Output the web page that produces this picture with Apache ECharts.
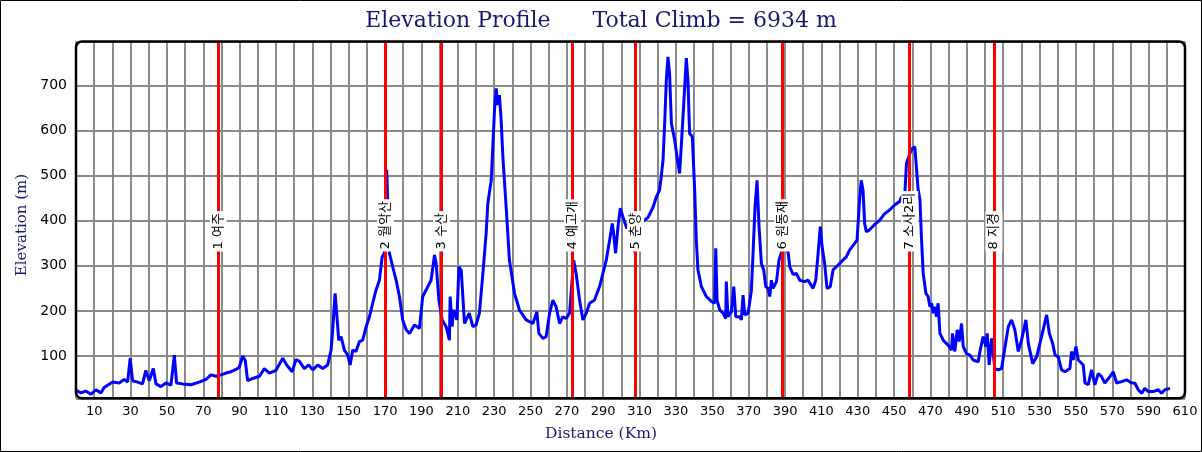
<!DOCTYPE html>
<html>
<head>
<meta charset="utf-8">
<script src="https://cdn.jsdelivr.net/npm/echarts@6/dist/echarts.min.js"></script>
<style>
html,body{margin:0;padding:0;background:#fff;}
#chart{width:1202px;height:452px;}
</style>
</head>
<body>
<div id="chart"></div>
<script>
// ---- data ----
const distanceKm = [0,2.7,5.4,8.2,10.9,13.7,15.5,17.4,20.1,23.8,26.5,28.4,29.8,31.1,33.9,36.6,38.4,40.3,42.5,44.0,46.7,49.5,52.2,54.1,55.3,58.6,63.2,67.8,71.5,74.2,77.0,79.7,82.5,85.3,88.0,89.8,91.7,93.1,94.4,97.2,100.9,103.6,106.4,110.0,113.7,115.9,118.9,121.0,122.9,125.6,128.0,130.2,133.0,135.7,138.4,140.3,141.2,142.5,143.4,144.5,145.8,147.6,149.5,150.8,152.2,154.0,155.9,157.7,159.6,161.4,163.2,165.0,166.9,168.4,169.6,170.9,172.4,174.2,176.1,177.9,179.7,181.6,183.4,186.2,188.9,190.7,193.5,195.3,197.2,198.1,199.6,201.4,203.6,205.4,205.8,206.9,207.6,208.5,209.5,210.6,211.9,213.7,216.3,218.3,220.1,221.9,223.8,225.6,226.5,228.4,230.2,231.1,232.0,232.9,233.9,234.8,236.6,238.4,241.2,243.9,247.6,251.3,253.5,254.6,256.8,258.6,260.5,262.3,264.1,266.0,267.8,269.6,271.5,273.7,275.1,277.0,278.8,280.7,282.5,285.2,288.0,289.8,291.7,293.5,295.0,295.7,296.8,298.1,299.4,300.8,303.0,304.5,305.8,307.3,309.0,310.5,311.9,314.6,317.4,319.2,321.0,321.9,322.9,323.8,324.7,325.6,326.5,327.5,329.3,330.6,332.0,332.9,334.2,335.7,336.6,337.5,339.0,340.3,341.2,342.1,344.0,346.7,349.5,351.3,351.9,352.6,354.1,355.9,357.4,357.7,358.6,360.5,361.8,362.9,365.1,366.0,366.9,367.9,369.7,371.5,372.4,373.5,374.6,375.7,377.0,378.3,379.4,380.7,381.6,382.5,383.4,385.3,386.7,388.0,389.8,391.7,392.6,394.4,396.3,398.1,400.8,402.7,405.4,406.9,408.2,409.4,410.5,411.8,413.1,414.9,416.4,418.2,420.0,421.9,423.7,425.5,428.3,429.6,431.0,431.9,432.9,433.8,434.7,436.5,439.3,442.0,444.8,447.5,450.3,453.0,454.1,455.9,456.8,458.6,460.1,461.4,463.2,464.2,465.1,466.0,467.5,468.7,469.7,470.6,471.5,472.4,473.3,474.2,475.2,477.0,479.7,481.6,482.1,483.4,484.7,485.8,487.1,488.0,489.8,491.7,493.5,496.3,497.2,499.0,500.5,501.2,502.3,503.6,505.4,507.3,509.1,510.9,512.8,514.6,516.4,518.3,520.1,522.5,523.8,526.2,528.4,531.1,533.9,535.4,537.2,538.5,540.3,542.1,544.0,546.7,547.6,548.5,550.0,551.3,554.0,555.0,556.8,558.6,560.4,562.3,564.1,565.9,568.7,570.5,572.4,575.1,577.9,580.6,582.4,584.3,586.1,587.9,589.7,592.5,595.3,597.1,598.9,601.7];
const elevationM = [24,18,22,15,25,18,30,35,42,40,48,42,95,45,42,38,68,45,72,38,32,40,35,102,40,38,36,42,48,58,55,58,62,65,70,75,100,90,45,50,55,72,62,68,95,80,65,92,88,72,80,69,80,72,80,113,158,239,195,135,143,113,102,80,113,110,132,135,165,187,217,246,268,320,328,513,328,298,268,232,180,158,150,169,161,232,254,268,324,305,224,180,165,135,232,165,202,195,180,298,290,172,195,165,169,195,283,372,438,490,646,694,657,679,620,542,431,313,239,202,180,172,198,150,139,143,195,224,209,172,187,183,195,313,283,224,180,195,217,224,254,283,313,357,394,372,328,386,428,409,383,400,370,330,360,385,399,407,430,453,468,498,535,616,712,764,727,616,579,542,505,564,653,761,712,594,587,468,357,291,254,232,221,217,339,224,202,195,183,265,187,198,254,187,187,180,235,191,195,246,328,431,490,387,305,290,254,250,232,268,250,265,313,330,345,330,298,281,283,268,265,268,250,268,328,387,339,305,250,254,291,298,305,313,320,335,350,357,446,490,468,394,376,380,392,401,416,424,435,443,453,461,527,549,561,564,470,446,357,283,239,232,209,217,195,209,187,217,150,135,124,113,150,110,158,132,172,121,105,102,91,87,110,143,121,150,80,139,72,69,72,117,165,180,158,110,135,180,128,83,98,143,191,150,128,102,98,69,65,72,110,91,121,91,80,40,36,69,36,61,54,40,54,65,40,43,47,40,40,25,17,28,21,21,25,17,25,28];
const waypointKm = [78.3, 170.2, 201.0, 273.1, 307.8, 388.7, 458.6, 504.9];
const waypointNames = ['1 여주', '2 월악산', '3 수산', '4 예고개', '5 춘양', '6 원동재', '7 소사2리', '8 지경'];
const waypointLabelElev = 332;
const titleText = 'Elevation Profile      Total Climb = 6934 m';
const xAxisTitle = 'Distance (Km)';
const yAxisTitle = 'Elevation (m)';

// ---- chart ----
const chart = echarts.init(document.getElementById('chart'), null, {renderer: 'canvas'});
const G = {left: 76, top: 41.5, right: 17, bottom: 53.7};
const W = 1202, H = 452;
const serif = '"DejaVu Serif", serif';
const sans = '"DejaVu Sans", "Noto Sans CJK KR", sans-serif';
const navy = '#191970';

const profile = distanceKm.map((d, i) => [d, elevationM[i]]);
const labelPts = waypointKm.map(k => [k, waypointLabelElev]);

chart.setOption({
  animation: false,
  backgroundColor: '#ffffff',
  title: [
    {
      text: titleText, left: 'center', top: 5,
      textStyle: {fontFamily: serif, fontSize: 22, fontWeight: 'normal', color: navy}
    },
    {
      text: xAxisTitle, left: 'center', top: 421,
      textStyle: {fontFamily: serif, fontSize: 15.5, fontWeight: 'normal', color: navy}
    }
  ],
  grid: {left: G.left, top: G.top, right: G.right, bottom: G.bottom, containLabel: false},
  xAxis: {
    type: 'value', min: 0, max: 610, interval: 10,
    axisLine: {show: false}, axisTick: {show: false},
    axisLabel: {
      color: '#000', fontFamily: sans, fontSize: 13, margin: 7,
      formatter: v => (Math.round(v) % 20 === 10 ? String(Math.round(v)) : '')
    },
    splitLine: {show: true, lineStyle: {color: '#8a8a8a', width: 2}}
  },
  yAxis: {
    type: 'value', min: 6, max: 798, minInterval: 100, maxInterval: 100, splitNumber: 8,
    axisLine: {show: false}, axisTick: {show: false},
    axisLabel: {color: '#000', fontFamily: sans, fontSize: 14, margin: 9, showMinLabel: false, showMaxLabel: false},
    splitLine: {show: true, lineStyle: {color: '#8a8a8a', width: 2}}
  },
  series: [
    {
      type: 'line', data: [], z: 2, silent: true,
      markLine: {
        silent: true, symbol: ['none', 'none'],
        lineStyle: {color: '#ff0000', width: 3, type: 'solid'},
        label: {show: false},
        data: waypointKm.map(k => ({xAxis: k}))
      }
    },
    {
      type: 'line', data: profile, z: 3, showSymbol: false, silent: true,
      lineStyle: {color: '#0000ff', width: 3}
    },
    {
      type: 'custom', data: labelPts, z: 10, silent: true,
      renderItem: function (params, api) {
        const p = api.coord([api.value(0), api.value(1)]);
        return {
          type: 'text', x: p[0], y: p[1], rotation: Math.PI / 2,
          style: {
            text: waypointNames[params.dataIndex],
            fill: '#000', font: '13px ' + sans,
            align: 'left', verticalAlign: 'middle',
            backgroundColor: '#ffffff', padding: [3, 2, 1, 2]
          }
        };
      }
    }
  ],
  graphic: [
    {type: 'text', z: 100, silent: true, x: 22, y: 225, rotation: Math.PI / 2,
     style: {text: yAxisTitle, fill: navy, font: '15px ' + serif, align: 'center', verticalAlign: 'middle'}},
    {type: 'rect', z: 100, silent: true,
     shape: {x: G.left, y: G.top, width: W - G.left - G.right, height: H - G.top - G.bottom, r: 6},
     style: {fill: null, stroke: '#000', lineWidth: 2.5}},
    {type: 'rect', z: 100, silent: true,
     shape: {x: 0.5, y: 0.5, width: W - 1, height: H - 1},
     style: {fill: null, stroke: '#000', lineWidth: 1}}
  ]
});
</script>
</body>
</html>
